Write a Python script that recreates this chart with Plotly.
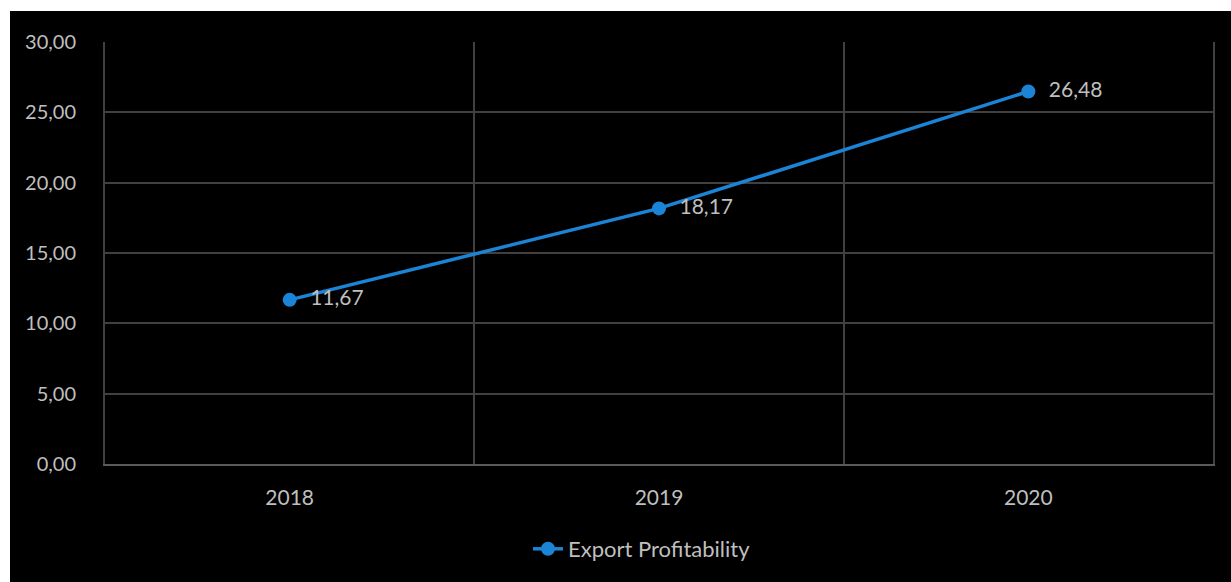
import plotly.graph_objects as go

years = ["2018", "2019", "2020"]
export_profitability = [11.67, 18.17, 26.48]
label_texts = ["11,67", "18,17", "26,48"]
series_name = "Export Profitability"

W, H = 1231, 582
L, R, T, B = 105, 18, 42, 118
pw, ph = W - L - R, H - T - B

def px_x(x):
    return (x - L) / pw

def px_y(y):
    return (H - B - y) / ph

font_family = "Lato, 'Open Sans', sans-serif"
text_col = "#bfbfbf"
blue = "#1b84d6"
grid = "#404040"
fs = 20

fig = go.Figure()
fig.add_trace(go.Scatter(
    x=years, y=export_profitability, mode="lines+markers+text",
    name=series_name,
    line=dict(color=blue, width=3.5),
    marker=dict(color=blue, size=14),
    text=label_texts, texttemplate="  %{text}", textposition="middle right",
    textfont=dict(color=text_col, size=21, family=font_family),
    cliponaxis=False,
))

fig.update_layout(
    width=W, height=H,
    margin=dict(l=L, r=R, t=T, b=B),
    paper_bgcolor="white",
    plot_bgcolor="black",
    separators=",.",
    font=dict(family=font_family, color=text_col, size=fs),
    showlegend=True,
    legend=dict(x=px_x(642), y=px_y(549), xanchor="center", yanchor="middle",
                orientation="h", bgcolor="rgba(0,0,0,0)",
                font=dict(color=text_col, size=22, family=font_family)),
    shapes=[dict(type="rect", xref="paper", yref="paper",
                 x0=px_x(10), x1=px_x(W + 5), y0=px_y(H + 5), y1=px_y(11),
                 fillcolor="black", line=dict(width=0), layer="below")],
    xaxis=dict(
        type="category", range=[-0.5, 2.5], tickson="boundaries",
        showgrid=True, gridcolor=grid, gridwidth=2,
        showline=True, linecolor="#595959", linewidth=2,
        ticks="", ticklabelstandoff=14,
        tickfont=dict(color=text_col, size=21, family=font_family),
        zeroline=False,
    ),
    yaxis=dict(
        range=[0, 30], dtick=5, tickformat=".2f",
        showgrid=True, gridcolor=grid, gridwidth=2,
        showline=True, linecolor=grid, linewidth=2, mirror=True,
        zeroline=False,
        ticks="", ticklabelstandoff=23,
        tickfont=dict(color=text_col, size=fs, family=font_family),
    ),
)

fig.write_html("out.html")
